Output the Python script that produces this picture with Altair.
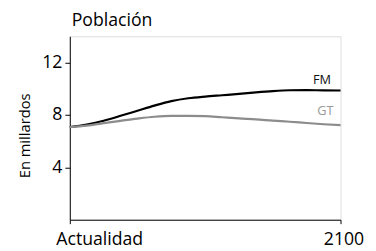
import altair as alt
import pandas as pd

years = [2020, 2025, 2030, 2035, 2040, 2045, 2050, 2055, 2060, 2065, 2070, 2075, 2080, 2085, 2090, 2095, 2100]
fm = [7.07, 7.27, 7.56, 7.93, 8.32, 8.71, 9.05, 9.27, 9.40, 9.50, 9.60, 9.72, 9.82, 9.88, 9.89, 9.87, 9.86]
gt = [7.07, 7.18, 7.37, 7.55, 7.72, 7.86, 7.93, 7.93, 7.91, 7.82, 7.73, 7.66, 7.56, 7.48, 7.38, 7.29, 7.22]
series = ["FM", "GT"]
colors = ["#000000", "#8c8c8c"]
label_colors = ["#111111", "#999999"]
label_years = [2094.5, 2095.5]
label_values = [9.88, 7.30]
y_ticks = [4, 8, 12]
x_ticks = [2020, 2100]

rows = []
for y, a, b in zip(years, fm, gt):
    rows.append({"year": y, "value": a, "serie": "FM"})
    rows.append({"year": y, "value": b, "serie": "GT"})
df = pd.DataFrame(rows)
labels = pd.DataFrame({"year": label_years, "value": label_values, "serie": series})

FONT = "Open Sans"

x = alt.X("year:Q", scale=alt.Scale(domain=[2020, 2100], nice=False),
          axis=alt.Axis(values=x_ticks, title=None, grid=False,
                        labelExpr="datum.value == 2020 ? 'Actualidad' : datum.label",
                        labelOffset={"condition": {"test": "datum.value == 2020", "value": 30}, "value": 3},
                        labelFontSize=18, labelFont=FONT, labelColor="#000",
                        tickSize=4, labelPadding=7, domainColor="#000", tickColor="#000",
                        labelFlush=False, format="d"))
y = alt.Y("value:Q", scale=alt.Scale(domain=[0, 14], nice=False),
          axis=alt.Axis(values=y_ticks, title="En millardos", grid=False,
                        labelFontSize=18, labelFont=FONT, labelColor="#000",
                        tickSize=5, labelPadding=3, domainColor="#000", tickColor="#000",
                        titleFont=FONT, titleFontSize=15, titleFontWeight="normal",
                        titleColor="#000", titlePadding=9, titleY=101))

lines = alt.Chart(df).mark_line(strokeWidth=2.2, interpolate="monotone").encode(
    x=x, y=y,
    color=alt.Color("serie:N", scale=alt.Scale(domain=series, range=colors), legend=None),
)

texts = alt.Chart(labels).encode(
    x="year:Q", y="value:Q", text="serie:N",
    color=alt.Color("serie:N", scale=alt.Scale(domain=series, range=label_colors), legend=None),
)
fm_text = texts.transform_filter("datum.serie == 'FM'").mark_text(font=FONT, fontSize=13, dy=-10, baseline="middle")
gt_text = texts.transform_filter("datum.serie == 'GT'").mark_text(font=FONT, fontSize=13, dy=-13, baseline="middle")

chart = alt.layer(lines, fm_text, gt_text).resolve_scale(color="independent").properties(
    width=276, height=187,
    title=alt.TitleParams("Población", anchor="start", frame="group", font=FONT, fontSize=18,
                          fontWeight="normal", color="#000", offset=6, dx=2),
    autosize=alt.AutoSizeParams(type="none"),
    padding={"left": 63, "top": 26.5, "right": 28, "bottom": 28},
).configure_view(stroke=None).configure(background="white")

chart.save("out.html", embed_options={"renderer": "svg", "actions": False})
